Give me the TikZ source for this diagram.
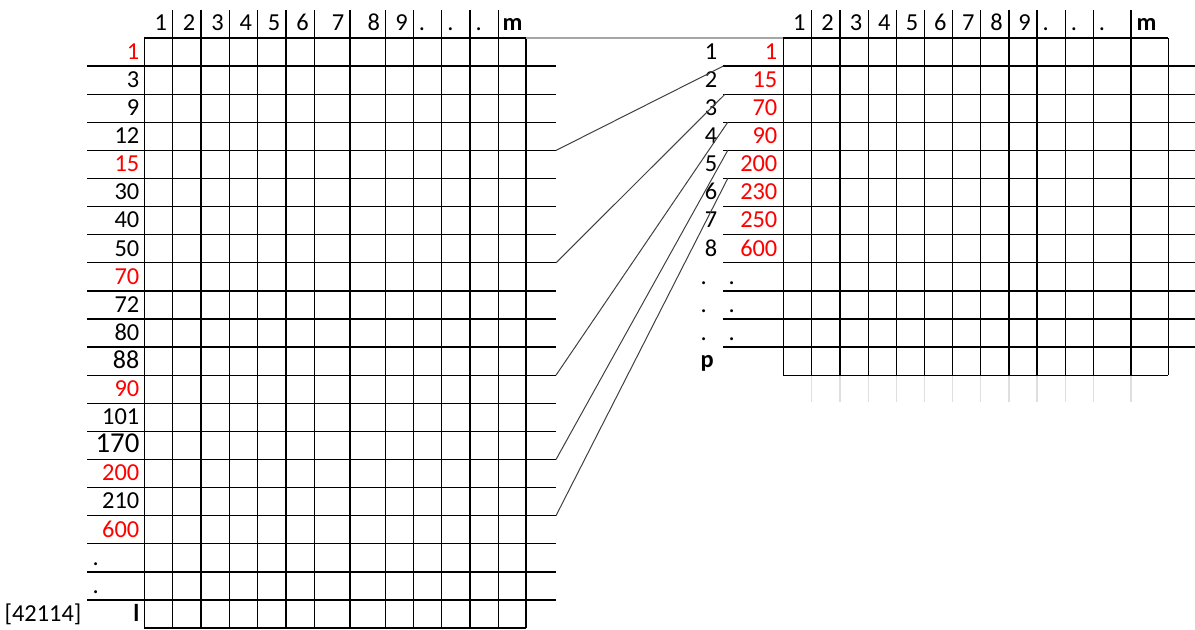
\documentclass[tikz,border=0pt]{standalone}
\usepackage{fontspec}
\setmainfont{Carlito}
\usetikzlibrary{positioning,calc}

\begin{document}
\begin{tikzpicture}[x=0.5pt,y=-0.5pt,line width=0.65pt,
  every node/.style={inner sep=0pt,font=\fontsize{12.2}{14}\selectfont},
  num/.style={anchor=base east},
  txt/.style={anchor=base west},
  val/.style={text=red},
  plain/.style={},
  big/.style={font=\fontsize{13}{15}\selectfont},
  bigger/.style={font=\fontsize{14.4}{16}\selectfont},
  bold/.style={font=\fontsize{12.2}{14}\selectfont\bfseries},
  link/.style={draw=black!75,line width=0.5pt}]
\useasboundingbox (0,0) rectangle (1195,629);
\def\rh{28.1}
\def\bl{7.3}
% left table
\foreach \x in {144.3,172.7,201,229.3,257.7,286,314.3,350,385.7,413.3,441.7,470,498.3,526}
  \draw (\x,38) -- (\x,628.1);
\foreach \x in {172.7,201,229.3,257.7,286,314.3,350,385.7,413.3,441.7,470,498.3}
  \draw (\x,10) -- (\x,38);
\draw (144.3,628.1) -- (526,628.1);
\draw (144.3,38) -- (526,38) coordinate (ltop);
\foreach \i in {1,...,20}
  \draw (87,38+\i*\rh) -- (556,38+\i*\rh) coordinate (l\i);
\foreach \xr/\t in {172.7/1,201/2,229.3/3,257.7/4,286/5,314.3/6,350/7,385.7/8,413.3/9}
  \node[num] (lh\t) at (\xr-5,30.7) {\t};
\foreach \xl [count=\k] in {413.3,441.7,470}
  \node[txt] (ld\k) at (\xl+5,30.7) {.};
\node[txt,bold] (lm) at (502,30.7) {m};
\foreach \t/\s [count=\i] in {1/val,3/plain,9/plain,12/plain,15/val,30/plain,40/plain,50/plain,70/val,72/plain,80/plain,88/big,90/val,101/plain,170/bigger,200/val,210/plain,600/val}
  \node[num,\s] (lr\i) at (140,38+\i*\rh-\rh/2+\bl) {\t};
\foreach \i in {19,20}
  \node[txt] (lr\i) at (92,38+\i*\rh-\rh/2+\bl) {.};
\node[num,bold] (ll) at (140,38+20.5*\rh+\bl) {l};
\node[num] (tag) at (82,38+20.5*\rh+\bl) {[42114]};
% right table
\foreach \x in {783.3,811.7,840,868.3,896.7,924.3,952.7,980.7,1009,1037,1065.3,1093.3,1131,1168.3}
  \draw (\x,38) -- (\x,375.2);
\foreach \x in {811.7,840,868.3,896.7,924.3,952.7,980.7,1009,1037,1065.3,1093.3,1131} {
  \draw (\x,10) -- (\x,38);
  \draw[gray!25] (\x,375.2) -- (\x,402);
}
\draw (783.3,375.2) -- (1168.3,375.2);
\draw (1168.3,38) -- (783.3,38) coordinate (rtop);
\foreach \i in {1,...,11}
  \draw (1195,38+\i*\rh) -- (723.3,38+\i*\rh) coordinate (r\i);
\foreach \xr/\t in {811.7/1,840/2,868.3/3,896.7/4,924.3/5,952.7/6,980.7/7,1009/8,1037/9}
  \node[num] (rh\t) at (\xr-5.5,30.7) {\t};
\foreach \xl [count=\k] in {1037,1065.3,1093.3}
  \node[txt] (rd\k) at (\xl+5,30.7) {.};
\node[txt,bold] (rm) at (1136,30.7) {m};
\foreach \v [count=\i] in {1,15,70,90,200,230,250,600} {
  \node[num] (ri\i) at (718,38+\i*\rh-\rh/2+\bl) {\i};
  \node[num,val] (rv\i) at (778,38+\i*\rh-\rh/2+\bl) {\v};
}
\foreach \i in {9,10,11} {
  \node[txt] (rx\i) at (700,38+\i*\rh-\rh/2+\bl) {.};
  \node[txt] (ry\i) at (728,38+\i*\rh-\rh/2+\bl) {.};
}
\node[txt,bold] (rp) at (700,38+11.5*\rh+\bl-1) {p};
% links
\coordinate (e1) at (723.3,38+1*\rh);
\coordinate (e2) at (725,38+2*\rh);
\coordinate (e3) at (727.7,38+3*\rh);
\coordinate (e4) at (727.7,38+4*\rh);
\coordinate (e5) at (727.7,38+5*\rh);
\draw[gray!70,line width=1pt] (ltop) -- (rtop);
\draw[link] (l4) -- (e1) (l8) -- (e2) (l12) -- (e3) (l15) -- (e4) (l17) -- (e5);
\end{tikzpicture}
\end{document}
